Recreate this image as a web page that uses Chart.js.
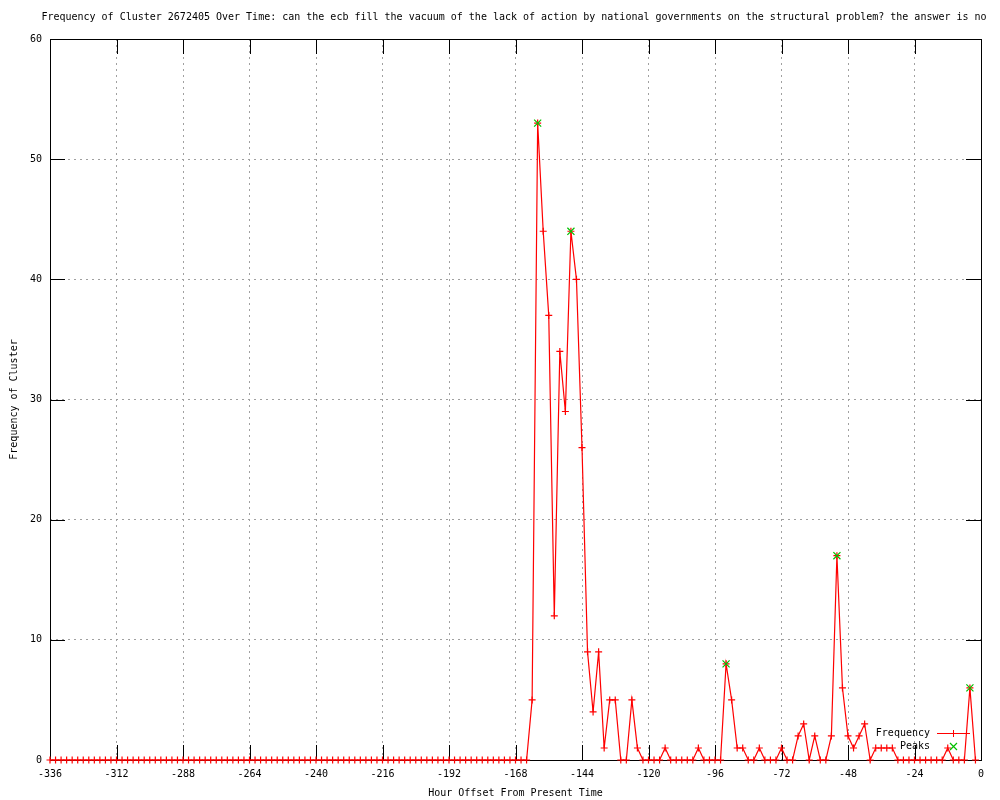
<!DOCTYPE html>
<html>
<head>
<meta charset="utf-8">
<script src="https://cdn.jsdelivr.net/npm/chart.js@4.4.1/dist/chart.umd.min.js"></script>
<style>
  html, body { margin: 0; padding: 0; background: #fff; }
  #wrap { width: 1000px; height: 800px; }
</style>
</head>
<body>
<div id="wrap"><canvas id="chart" width="1000" height="800"></canvas></div>
<script>
"use strict";

var titleText = "Frequency of Cluster 2672405 Over Time: can the ecb fill the vacuum of the lack of action by national governments on the structural problem? the answer is no";

// hours -336 .. -164 are all zero
var leadingZeroHours = [];
for (var h = -336; h <= -164; h += 2) leadingZeroHours.push(h);

var hours = [-162, -160, -158, -156, -154, -152, -150, -148, -146, -144, -142, -140,
	-138, -136, -134, -132, -130, -128, -126, -124, -122, -120, -118, -116,
	-114, -112, -110, -108, -106, -104, -102, -100, -98, -96, -94, -92, -90, -88,
	-86, -84, -82, -80, -78, -76, -74, -72, -70, -68, -66, -64, -62, -60, -58,
	-56, -54, -52, -50, -48, -46, -44, -42, -40, -38, -36, -34, -32, -30, -28,
	-26, -24, -22, -20, -18, -16, -14, -12, -10, -8, -6, -4, -2];
var counts = [5, 53, 44, 37, 12, 34, 29, 44, 40, 26, 9, 4,
	9, 1, 5, 5, 0, 0, 5, 1, 0, 0, 0, 0,
	1, 0, 0, 0, 0, 0, 1, 0, 0, 0, 0, 8, 5, 1,
	1, 0, 0, 1, 0, 0, 0, 1, 0, 0, 2, 3, 0, 2, 0,
	0, 2, 17, 6, 2, 1, 2, 3, 0, 1, 1, 1, 1, 0, 0,
	0, 0, 0, 0, 0, 0, 0, 1, 0, 0, 0, 6, 0];

var peakHours = [-160, -148, -92, -52, -4];
var peakCounts = [53, 44, 8, 17, 6];

var xTickStep = 24;
var yTickStep = 10;

var freqData = leadingZeroHours.map(function(x) { return {x: x, y: 0}; })
	.concat(hours.map(function(x, i) { return {x: x, y: counts[i]}; }));
var peakData = peakHours.map(function(x, i) { return {x: x, y: peakCounts[i]}; });

var monoFont = {family: "'DejaVu Sans Mono', monospace", size: 10};

var gnuplotFrame = {
	id: "gnuplotFrame",
	beforeDatasetsDraw: function(chart) {
		var ctx = chart.ctx;
		var a = chart.chartArea;
		var xs = chart.scales.x, ys = chart.scales.y;
		var tl = 15;
		ctx.save();
		ctx.strokeStyle = "#000000";
		ctx.lineWidth = 1;
		ctx.beginPath();
		xs.ticks.forEach(function(t) {
			var px = Math.round(xs.getPixelForValue(t.value)) + 0.5;
			ctx.moveTo(px, a.bottom); ctx.lineTo(px, a.bottom - tl);
			ctx.moveTo(px, a.top); ctx.lineTo(px, a.top + tl);
		});
		ys.ticks.forEach(function(t) {
			var py = Math.round(ys.getPixelForValue(t.value)) + 0.5;
			ctx.moveTo(a.left, py); ctx.lineTo(a.left + tl, py);
			ctx.moveTo(a.right, py); ctx.lineTo(a.right - tl, py);
		});
		ctx.stroke();
		ctx.strokeRect(Math.round(a.left) + 0.5, Math.round(a.top) + 0.5,
			Math.round(a.right - a.left), Math.round(a.bottom - a.top));
		ctx.restore();
	},
	afterDraw: function(chart) {
		var ctx = chart.ctx;
		var ds = chart.data.datasets;
		ctx.save();
		ctx.font = "10px 'DejaVu Sans Mono', monospace";
		ctx.fillStyle = "#000000";
		ctx.textBaseline = "middle";
		ctx.textAlign = "center";
		ctx.fillText(titleText, 514, 17);

		// key, bottom right, text left of sample
		ctx.textAlign = "right";
		ctx.fillText(ds[0].label, 930, 733);
		ctx.fillText(ds[1].label, 930, 746);

		ctx.fillStyle = ds[0].borderColor;
		ctx.fillRect(937, 733, 33, 1);
		ctx.fillRect(953, 730, 1, 7);

		ctx.lineWidth = 1.2;
		ctx.strokeStyle = ds[1].borderColor;
		ctx.beginPath();
		ctx.moveTo(950, 743); ctx.lineTo(957, 750);
		ctx.moveTo(950, 750); ctx.lineTo(957, 743);
		ctx.stroke();
		ctx.restore();
	}
};

var ctx = document.getElementById("chart").getContext("2d");
new Chart(ctx, {
	type: "line",
	data: {
		datasets: [{
			label: "Frequency",
			data: freqData,
			borderColor: "#ff0000",
			backgroundColor: "#ff0000",
			borderWidth: 1.2,
			tension: 0,
			pointStyle: "cross",
			pointRadius: 3.5,
			pointBorderWidth: 1.2,
			pointBorderColor: "#ff0000",
			clip: false,
			order: 2
		}, {
			label: "Peaks",
			data: peakData,
			showLine: false,
			borderColor: "#00c000",
			backgroundColor: "#00c000",
			pointStyle: "crossRot",
			pointRadius: 5,
			pointBorderWidth: 1.2,
			pointBorderColor: "#00c000",
			clip: false,
			order: 1
		}]
	},
	options: {
		responsive: false,
		animation: false,
		devicePixelRatio: 1,
		layout: {padding: {top: 39, right: 19, left: 0, bottom: 0}},
		plugins: {
			legend: {display: false},
			title: {display: false},
			tooltip: {enabled: false}
		},
		scales: {
			x: {
				type: "linear",
				min: -336,
				max: 0,
				afterFit: function(scale) { scale.height = 40; },
				ticks: {
					stepSize: xTickStep,
					color: "#000",
					font: monoFont,
					padding: 8,
					maxRotation: 0,
					autoSkip: false
				},
				grid: {
					color: "#a0a0a0",
					lineWidth: 1,
					drawTicks: false
				},
				border: {display: false, dash: [2, 4]},
				title: {
					display: true,
					text: "Hour Offset From Present Time",
					color: "#000",
					font: monoFont,
					padding: {top: 0, bottom: 1}
				}
			},
			y: {
				min: 0,
				max: 60,
				afterFit: function(scale) { scale.width = 50; },
				ticks: {
					stepSize: yTickStep,
					color: "#000",
					font: monoFont,
					padding: 8
				},
				grid: {
					color: "#a0a0a0",
					lineWidth: 1,
					drawTicks: false
				},
				border: {display: false, dash: [2, 4]},
				title: {
					display: true,
					text: "Frequency of Cluster",
					color: "#000",
					font: monoFont,
					padding: {top: 8, bottom: 0}
				}
			}
		}
	},
	plugins: [gnuplotFrame]
});
</script>
</body>
</html>
